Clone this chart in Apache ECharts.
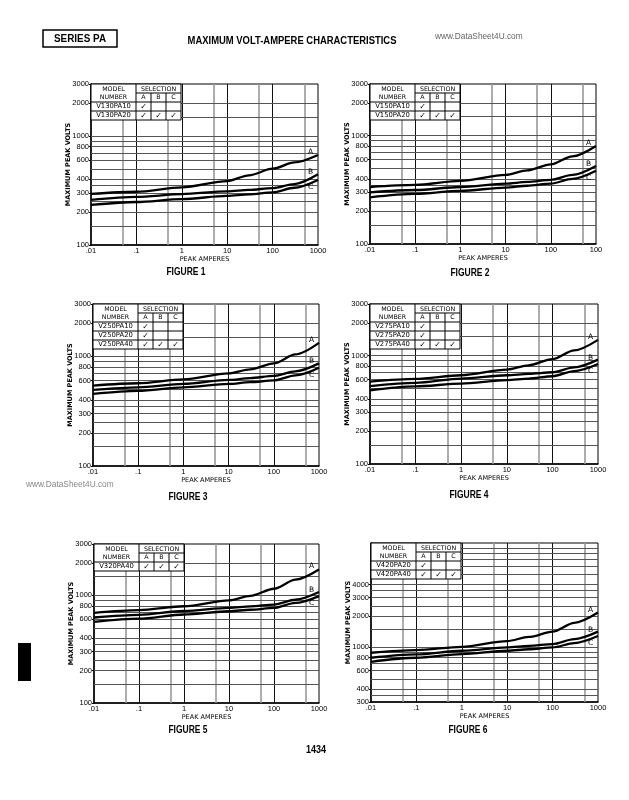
<!DOCTYPE html>
<html><head><meta charset="utf-8">
<script src="https://cdn.jsdelivr.net/npm/echarts@6/dist/echarts.min.js"></script>
<style>html,body{margin:0;padding:0;background:#fff}#c{width:629px;height:800px}</style>
</head><body><div id="c"></div>
<script>
// ---- data (peak amperes vs maximum peak volts) ----
const peakAmperes = [0.01, 0.1, 1, 10, 30, 100, 300, 1000];

const fig1A = [294, 308, 338, 386, 436, 501, 572, 670];
const fig1B = [259, 276, 293, 311, 320, 333, 362, 445];
const fig1C = [233, 248, 264, 282, 292, 304, 335, 395];

const fig2A = [336, 351, 382, 434, 478, 543, 645, 804];
const fig2B = [300, 315, 336, 361, 374, 391, 434, 525];
const fig2C = [270, 290, 309, 332, 345, 361, 399, 475];

const fig3A = [541, 568, 617, 699, 760, 862, 1040, 1325];
const fig3B = [494, 522, 560, 609, 633, 663, 730, 862];
const fig3C = [455, 485, 522, 560, 581, 603, 670, 787];

const fig4A = [577, 611, 660, 743, 815, 930, 1120, 1400];
const fig4B = [524, 561, 615, 660, 680, 703, 780, 919];
const fig4C = [478, 520, 553, 594, 615, 646, 720, 838];

const fig5A = [687, 728, 792, 900, 990, 1152, 1400, 1738];
const fig5B = [623, 660, 716, 764, 790, 821, 910, 1073];
const fig5C = [567, 609, 664, 712, 735, 764, 850, 985];

const fig6A = [889, 942, 1014, 1150, 1260, 1415, 1720, 2155];
const fig6B = [796, 857, 929, 1000, 1035, 1076, 1200, 1415];
const fig6C = [728, 796, 863, 929, 960, 1000, 1100, 1285];

// ---- tick labels / grid values ----
const xTickValues = [0.01, 0.1, 1, 10, 100, 1000];
const xTickLabels = ['.01', '.1', '1', '10', '100', '1000'];
const xTickLabelsFig2 = ['.01', '.1', '1', '10', '100', '100'];
const yTickValues = [100, 200, 300, 400, 600, 800, 1000, 2000, 3000];
const yTickValuesFig6 = [300, 400, 600, 800, 1000, 2000, 3000, 4000];
const xGridMajor = [0.1, 1, 10, 100];
const xGridMinor = [0.05, 0.5, 5, 50, 500];
const yGridLines = [150, 200, 250, 300, 350, 400, 500, 600, 700, 800, 900, 1000, 1500, 2000];
const yGridLinesFig6 = [350, 400, 500, 600, 700, 800, 900, 1000, 1500, 2000, 2500, 3000, 3500, 4000, 5000, 6000, 7000, 8000, 9000];

// ---- selection tables ----
const fig1Models = ['V130PA10', 'V130PA20'];
const fig1Selection = [[1, 0, 0], [1, 1, 1]];
const fig2Models = ['V150PA10', 'V150PA20'];
const fig2Selection = [[1, 0, 0], [1, 1, 1]];
const fig3Models = ['V250PA10', 'V250PA20', 'V250PA40'];
const fig3Selection = [[1, 0, 0], [1, 0, 0], [1, 1, 1]];
const fig4Models = ['V275PA10', 'V275PA20', 'V275PA40'];
const fig4Selection = [[1, 0, 0], [1, 0, 0], [1, 1, 1]];
const fig5Models = ['V320PA40'];
const fig5Selection = [[1, 1, 1]];
const fig6Models = ['V420PA20', 'V420PA40'];
const fig6Selection = [[1, 0, 0], [1, 1, 1]];

const figures = [
  {caption: 'FIGURE 1', A: fig1A, B: fig1B, C: fig1C, yMin: 100, yMax: 3000, yTicks: yTickValues, yLines: yGridLines, xLabels: xTickLabels, models: fig1Models, sel: fig1Selection},
  {caption: 'FIGURE 2', A: fig2A, B: fig2B, C: fig2C, yMin: 100, yMax: 3000, yTicks: yTickValues, yLines: yGridLines, xLabels: xTickLabelsFig2, models: fig2Models, sel: fig2Selection},
  {caption: 'FIGURE 3', A: fig3A, B: fig3B, C: fig3C, yMin: 100, yMax: 3000, yTicks: yTickValues, yLines: yGridLines, xLabels: xTickLabels, models: fig3Models, sel: fig3Selection},
  {caption: 'FIGURE 4', A: fig4A, B: fig4B, C: fig4C, yMin: 100, yMax: 3000, yTicks: yTickValues, yLines: yGridLines, xLabels: xTickLabels, models: fig4Models, sel: fig4Selection},
  {caption: 'FIGURE 5', A: fig5A, B: fig5B, C: fig5C, yMin: 100, yMax: 3000, yTicks: yTickValues, yLines: yGridLines, xLabels: xTickLabels, models: fig5Models, sel: fig5Selection},
  {caption: 'FIGURE 6', A: fig6A, B: fig6B, C: fig6C, yMin: 300, yMax: 10000, yTicks: yTickValuesFig6, yLines: yGridLinesFig6, xLabels: xTickLabels, models: fig6Models, sel: fig6Selection}
];

// ---- layout ----
const layout = [
  {left: 91, top: 84, width: 227, height: 161, cap: [186, 272]},
  {left: 370, top: 84, width: 226, height: 160, cap: [470, 273]},
  {left: 93, top: 304, width: 226, height: 162, cap: [188, 497]},
  {left: 370, top: 304, width: 228, height: 160, cap: [469, 495]},
  {left: 94, top: 544, width: 225, height: 159, cap: [188, 730]},
  {left: 371, top: 543, width: 227, height: 159, cap: [468, 730]}
];

const FONT = 'DejaVu Sans';
const LBL = "'Liberation Sans', Arial, sans-serif";
const BOLD = "'Liberation Sans', Arial, sans-serif";

const chart = echarts.init(document.getElementById('c'), null, {renderer: 'canvas'});

const grids = [], xAxes = [], yAxes = [], series = [], graphics = [];

function labelFor(values, labels) {
  return function (v) {
    for (let i = 0; i < values.length; i++) {
      if (Math.abs(Math.log10(values[i]) - Math.log10(v)) < 1e-6) return labels[i];
    }
    return '';
  };
}

figures.forEach(function (f, i) {
  const L = layout[i];
  grids.push({left: L.left, top: L.top, width: L.width, height: L.height, show: true, borderColor: '#000', borderWidth: 1, backgroundColor: 'transparent'});
  xAxes.push({
    gridIndex: i, type: 'log', logBase: 10, min: 0.01, max: 1000,
    axisLine: {show: true, onZero: false, lineStyle: {color: '#000', width: 1.5}},
    axisTick: {show: false},
    splitLine: {show: false},
    axisLabel: {customValues: xTickValues, formatter: labelFor(xTickValues, f.xLabels), fontSize: 7.5, fontFamily: LBL, color: '#000', margin: 2},
    name: 'PEAK AMPERES', nameLocation: 'middle', nameGap: 10,
    nameTextStyle: {fontSize: 6.5, fontFamily: FONT, color: '#000'}
  });
  yAxes.push({
    gridIndex: i, type: 'log', logBase: 10, min: f.yMin, max: f.yMax,
    axisLine: {show: true, onZero: false, lineStyle: {color: '#000', width: 1.5}},
    axisTick: {show: true, customValues: f.yTicks, length: 2, lineStyle: {color: '#000'}},
    splitLine: {show: false},
    axisLabel: {customValues: f.yTicks, formatter: function (v) { return String(Math.round(v)); }, fontSize: 7.5, fontFamily: LBL, color: '#000', margin: 2},
    name: 'MAXIMUM PEAK VOLTS', nameLocation: 'middle', nameGap: 19.5, nameRotate: 90, nameMoveOverlap: false,
    nameTextStyle: {fontSize: 6.5, fontFamily: FONT, color: '#000', fontWeight: 'bold'}
  });

  // grid lines as mark lines through the axis scales
  const mlData = [];
  xGridMajor.forEach(function (v) { mlData.push({xAxis: v, lineStyle: {color: '#111', width: 1, type: 'solid'}}); });
  xGridMinor.forEach(function (v) { mlData.push({xAxis: v, lineStyle: {color: '#999', width: 1.6, type: 'solid'}}); });
  f.yLines.forEach(function (v) { mlData.push({yAxis: v, lineStyle: {color: '#555', width: 1, type: 'solid'}}); });
  series.push({
    type: 'line', xAxisIndex: i, yAxisIndex: i, silent: true, z: 1,
    data: peakAmperes.map(function (x, k) { return [x, f.C[k]]; }),
    lineStyle: {opacity: 0}, showSymbol: false, symbol: 'none',
    markLine: {silent: true, z: 1, symbol: ['none', 'none'], label: {show: false}, animation: false, data: mlData}
  });

  [['A', f.A, -3], ['B', f.B, -2], ['C', f.C, 7]].forEach(function (s) {
    series.push({
      type: 'line', name: f.caption + ' ' + s[0], xAxisIndex: i, yAxisIndex: i, z: 3,
      data: peakAmperes.map(function (x, k) { return [x, s[1][k]]; }),
      smooth: 0.3, smoothMonotone: 'x', showSymbol: false, symbol: 'none', silent: true,
      lineStyle: {color: '#000', width: 2.3},
      endLabel: {show: true, formatter: s[0], offset: [-18, s[2]], fontSize: 7.5, fontFamily: FONT, color: '#000'}
    });
  });

  // selection table
  const tx = L.left, ty = L.top, rh = 9, mw = 45, cw = 15;
  const rows = f.models.length + 2;
  const th = rh * rows, tw = mw + 3 * cw;
  const Z = 50;
  const ls = {stroke: '#000', lineWidth: 1};
  graphics.push({type: 'rect', z: Z, shape: {x: tx, y: ty, width: tw, height: th}, style: {fill: '#fff', stroke: '#000', lineWidth: 1}});
  graphics.push({type: 'line', z: Z, shape: {x1: tx + mw, y1: ty, x2: tx + mw, y2: ty + th}, style: ls});
  graphics.push({type: 'line', z: Z, shape: {x1: tx + mw, y1: ty + rh, x2: tx + tw, y2: ty + rh}, style: ls});
  for (let r = 2; r < rows; r++) {
    graphics.push({type: 'line', z: Z, shape: {x1: tx, y1: ty + r * rh, x2: tx + tw, y2: ty + r * rh}, style: ls});
  }
  for (let c = 1; c < 3; c++) {
    graphics.push({type: 'line', z: Z, shape: {x1: tx + mw + c * cw, y1: ty + rh, x2: tx + mw + c * cw, y2: ty + th}, style: ls});
  }
  const ts = function (text, x, y, align, size) {
    return {type: 'text', z: Z + 1, x: x, y: y, style: {text: text, fill: '#000', font: (size || 6.3) + 'px ' + FONT, align: align || 'center', verticalAlign: 'middle'}};
  };
  graphics.push(ts('MODEL', tx + mw / 2, ty + rh / 2 + 0.5));
  graphics.push(ts('NUMBER', tx + mw / 2, ty + rh * 1.5));
  graphics.push(ts('SELECTION', tx + mw + 1.5 * cw, ty + rh / 2 + 0.5));
  ['A', 'B', 'C'].forEach(function (c, k) { graphics.push(ts(c, tx + mw + (k + 0.5) * cw, ty + rh * 1.5)); });
  f.models.forEach(function (m, r) {
    const yy = ty + rh * (r + 2.5);
    graphics.push(ts(m, tx + mw / 2, yy, 'center', 6.8));
    f.sel[r].forEach(function (on, k) {
      if (on) graphics.push(ts('\u2713', tx + mw + (k + 0.5) * cw, yy, 'center', 8));
    });
  });

  // caption
  graphics.push({type: 'text', z: Z, x: L.cap[0], y: L.cap[1], scaleX: 0.85, style: {text: f.caption, fill: '#000', font: 'bold 10px ' + BOLD, align: 'center', verticalAlign: 'middle'}});
});

// page decorations
graphics.push({type: 'rect', shape: {x: 43, y: 30, width: 74, height: 17}, style: {fill: '#fff', stroke: '#000', lineWidth: 1.5}});
graphics.push({type: 'text', x: 80, y: 39, scaleX: 0.9, style: {text: 'SERIES PA', fill: '#000', font: 'bold 11px ' + BOLD, align: 'center', verticalAlign: 'middle'}});
graphics.push({type: 'text', x: 292, y: 41, scaleX: 0.82, style: {text: 'MAXIMUM VOLT-AMPERE CHARACTERISTICS', fill: '#000', font: 'bold 11.5px ' + BOLD, align: 'center', verticalAlign: 'middle'}});
graphics.push({type: 'text', x: 435, y: 37, style: {text: 'www.DataSheet4U.com', fill: '#666', font: '8.3px ' + BOLD, align: 'left', verticalAlign: 'middle'}});
graphics.push({type: 'text', x: 26, y: 485, style: {text: 'www.DataSheet4U.com', fill: '#888', font: '8.3px ' + BOLD, align: 'left', verticalAlign: 'middle'}});
graphics.push({type: 'text', x: 316, y: 750, scaleX: 0.9, style: {text: '1434', fill: '#000', font: 'bold 10px ' + BOLD, align: 'center', verticalAlign: 'middle'}});
graphics.push({type: 'rect', shape: {x: 18, y: 643, width: 13, height: 38}, style: {fill: '#000'}});

chart.setOption({
  backgroundColor: '#fff',
  animation: false,
  grid: grids,
  xAxis: xAxes,
  yAxis: yAxes,
  series: series,
  graphic: {elements: graphics}
});
</script>
</body></html>
